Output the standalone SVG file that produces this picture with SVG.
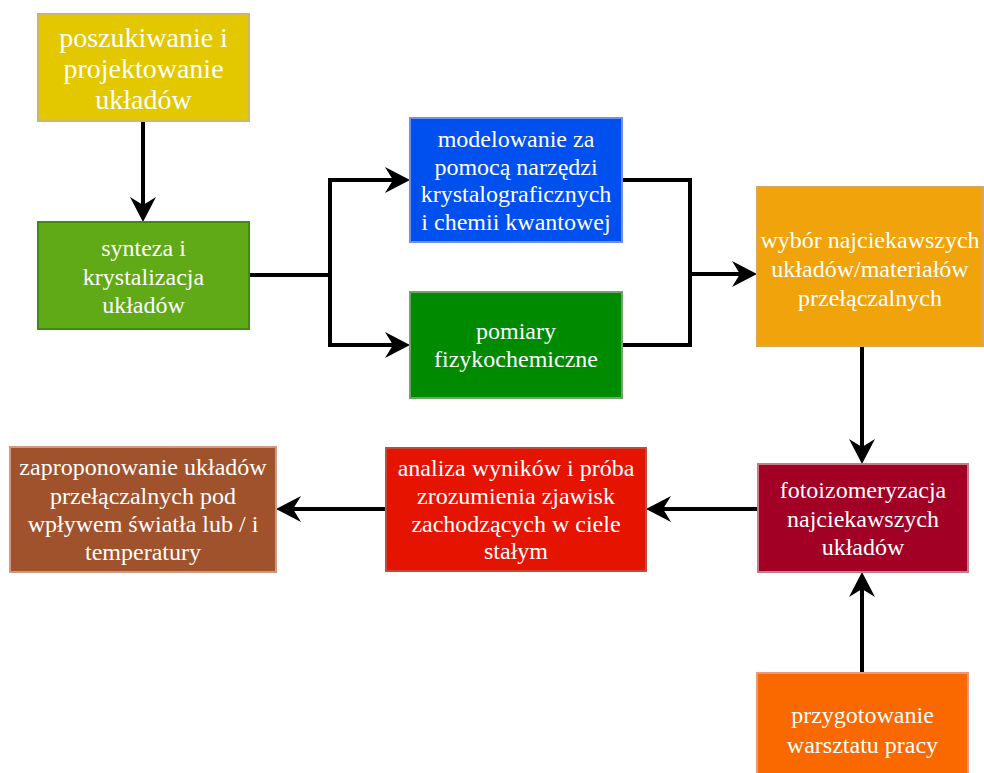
<svg xmlns="http://www.w3.org/2000/svg" width="984" height="773" viewBox="0 0 984 773">
<style>
.t{font-family:"Liberation Serif","Times New Roman",serif;font-size:24px;fill:#ffffff;text-anchor:middle;dominant-baseline:central}
.big{font-size:28px}
.c{fill:none;stroke:#000;stroke-width:4}
rect{stroke-width:2}
</style>
<defs>
<marker id="ah" markerUnits="userSpaceOnUse" markerWidth="30" markerHeight="30" viewBox="-20 -15 30 30" refX="0" refY="0" orient="auto">
<path d="M8,0 L-17,-13 L-9,0 L-17,13 Z" fill="#000"/>
</marker>
</defs>
<rect width="984" height="773" fill="#fff"/>
<g id="connectors">
<path class="c" d="M143,121 V214" marker-end="url(#ah)"/>
<path class="c" d="M249,275 H330 V180 H402" marker-end="url(#ah)"/>
<path class="c" d="M330,275 V345 H402" marker-end="url(#ah)"/>
<path class="c" d="M622,180 H690 V345 H622"/>
<path class="c" d="M690,274 H749" marker-end="url(#ah)"/>
<path class="c" d="M862,346 V456" marker-end="url(#ah)"/>
<path class="c" d="M758,509 H654" marker-end="url(#ah)"/>
<path class="c" d="M386,509 H284" marker-end="url(#ah)"/>
<path class="c" d="M862,673 V580" marker-end="url(#ah)"/>
</g>
<g id="n1">
<rect x="38" y="14" width="211" height="107" fill="#e3c800" stroke="#cbb66a"/>
<text class="t big" x="143.5" y="37">poszukiwanie i</text>
<text class="t big" x="143.5" y="68">projektowanie</text>
<text class="t big" x="143.5" y="99">układów</text>
</g>
<g id="n2">
<rect x="38" y="222" width="211" height="107" fill="#60a917" stroke="#3f8a12"/>
<text class="t" x="143.5" y="248">synteza i</text>
<text class="t" x="143.5" y="276.5">krystalizacja</text>
<text class="t" x="143.5" y="305">układów</text>
</g>
<g id="n3">
<rect x="410" y="118" width="212" height="124" fill="#0050ef" stroke="#6f8fe8"/>
<text class="t" x="516" y="139">modelowanie za</text>
<text class="t" x="516" y="166.5">pomocą narzędzi</text>
<text class="t" x="516" y="194">krystalograficznych</text>
<text class="t" x="516" y="221.5">i chemii kwantowej</text>
</g>
<g id="n4">
<rect x="410" y="292" width="212" height="106" fill="#008a00" stroke="#6aa86a"/>
<text class="t" x="516" y="331">pomiary</text>
<text class="t" x="516" y="359">fizykochemiczne</text>
</g>
<g id="n5">
<rect x="757" y="187" width="226" height="159" fill="#f0a30a" stroke="#d8a560"/>
<text class="t" x="870" y="240">wybór najciekawszych</text>
<text class="t" x="870" y="269">układów/materiałów</text>
<text class="t" x="870" y="298">przełączalnych</text>
</g>
<g id="n6">
<rect x="758" y="464" width="210" height="108" fill="#a20025" stroke="#c77a88"/>
<text class="t" x="863" y="490">fotoizomeryzacja</text>
<text class="t" x="863" y="518.5">najciekawszych</text>
<text class="t" x="863" y="547">układów</text>
</g>
<g id="n7">
<rect x="386" y="448" width="260" height="123" fill="#e51400" stroke="#c24a3a"/>
<text class="t" x="516" y="468">analiza wyników i próba</text>
<text class="t" x="516" y="496">zrozumienia zjawisk</text>
<text class="t" x="516" y="523.5">zachodzących w ciele</text>
<text class="t" x="516" y="551">stałym</text>
</g>
<g id="n8">
<rect x="10" y="447" width="266" height="125" fill="#a0522d" stroke="#d09a80"/>
<text class="t" x="143" y="467">zaproponowanie układów</text>
<text class="t" x="143" y="495.5">przełączalnych pod</text>
<text class="t" x="143" y="524">wpływem światła lub / i</text>
<text class="t" x="143" y="552">temperatury</text>
</g>
<g id="n9">
<rect x="757" y="673" width="211" height="115" fill="#fa6800" stroke="#e89a7a"/>
<text class="t" x="862.5" y="715">przygotowanie</text>
<text class="t" x="862.5" y="745">warsztatu pracy</text>
</g>
</svg>
